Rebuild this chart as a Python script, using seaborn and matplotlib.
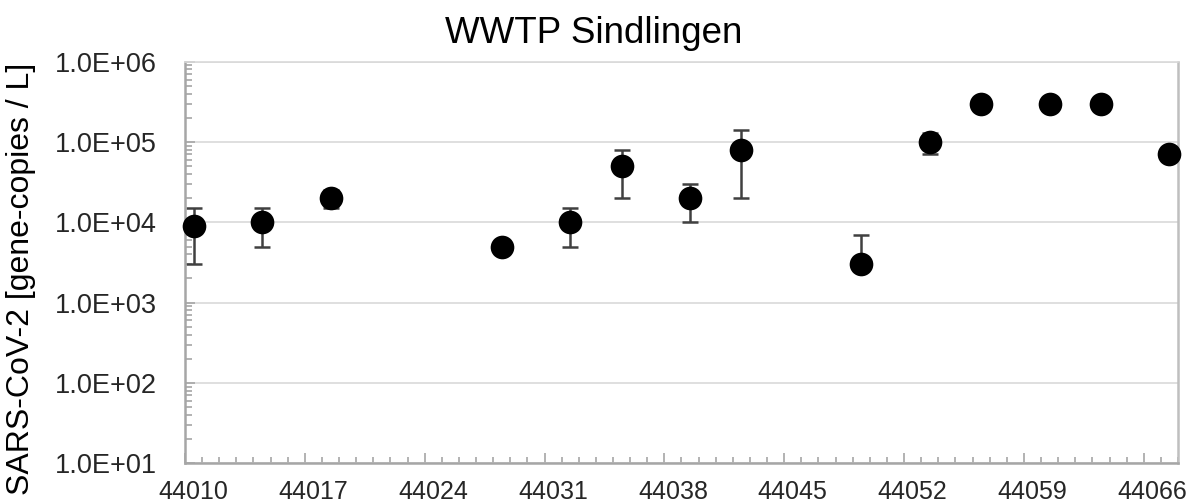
import matplotlib
matplotlib.use('Agg')
import matplotlib.pyplot as plt
import matplotlib.transforms as mtransforms
from matplotlib.ticker import FixedLocator, FuncFormatter, LogLocator, NullFormatter
import seaborn as sns
import pandas as pd
import numpy as np

# ---- data ----
dates = [44010, 44014, 44018, 44028, 44032, 44035, 44039, 44042, 44049, 44053, 44056, 44060, 44063, 44067]
values = [9000, 10000, 20000, 5000, 10000, 50000, 20000, 80000, 3000, 100000, 300000, 300000, 300000, 70000]
err_low = [3000, 5000, 15000, 5000, 5000, 20000, 10000, 20000, 3000, 70000, 300000, 300000, 300000, 70000]
err_high = [15000, 15000, 25000, 5000, 15000, 80000, 30000, 140000, 7000, 130000, 300000, 300000, 300000, 70000]
x_tick_labels = [44010, 44017, 44024, 44031, 44038, 44045, 44052, 44059, 44066]
title = "WWTP Sindlingen"
ylabel = "SARS-CoV-2 [gene-copies / L]"

sns.set_style("white")
plt.rcParams['font.family'] = ['Liberation Sans', 'DejaVu Sans']

df = pd.DataFrame({"date": dates, "value": values, "lo": err_low, "hi": err_high})

fig = plt.figure(figsize=(11.88, 5.04), dpi=100)
ax = fig.add_axes([185 / 1188, 1 - 463.3 / 504, (1178 - 185) / 1188, (463.3 - 61.7) / 504])

# error bars (behind markers)
yerr = np.vstack([df["value"] - df["lo"], df["hi"] - df["value"]])
ax.errorbar(df["date"], df["value"], yerr=yerr, fmt='none', ecolor='#404040',
            elinewidth=1.8, capsize=5.5, capthick=1.8, zorder=2)
sns.scatterplot(data=df, x="date", y="value", ax=ax, color='black', s=290,
                edgecolor='black', linewidth=0, zorder=3, clip_on=False, legend=False)

ax.set_yscale('log')
ax.set_ylim(10, 1e6)
ax.set_xlim(44009.5, 44067.5)

# y axis ticks
ax.yaxis.set_major_locator(LogLocator(base=10, numticks=10))
ax.yaxis.set_major_formatter(FuncFormatter(lambda v, p: f"{v:.1E}"))
ax.yaxis.set_minor_locator(LogLocator(base=10, subs=np.arange(2, 10), numticks=20))
ax.yaxis.set_minor_formatter(NullFormatter())
ax.tick_params(axis='y', which='major', direction='in', length=7, width=1.2, color='#a6a6a6',
               labelsize=19.5, pad=20, left=True)
ax.tick_params(axis='y', which='minor', direction='in', length=5, width=1.2, color='#a6a6a6', left=True)

# x axis ticks: boundaries between days, labels centered on day
bounds_major = [d - 0.5 for d in x_tick_labels]
bounds_minor = list(np.arange(44009.5, 44067.6, 1.0))
ax.xaxis.set_major_locator(FixedLocator(bounds_major))
ax.xaxis.set_major_formatter(FuncFormatter(lambda v, p: f"{int(round(v + 0.5))}"))
ax.xaxis.set_minor_locator(FixedLocator(bounds_minor))
ax.xaxis.set_minor_formatter(NullFormatter())
ax.tick_params(axis='x', which='major', direction='in', length=7, width=1.2, color='#a6a6a6',
               labelsize=18, pad=12, bottom=True)
ax.tick_params(axis='x', which='minor', direction='in', length=4, width=1.2, color='#a6a6a6', bottom=True)
offset = mtransforms.ScaledTranslation(8.5 / 100, 0, fig.dpi_scale_trans)
for lbl in ax.get_xticklabels():
    lbl.set_transform(lbl.get_transform() + offset)

# grid
ax.grid(False)
ax.yaxis.grid(True, which='major', color='#d9d9d9', linewidth=1.2)
ax.set_axisbelow(True)

for side in ['left', 'bottom', 'right', 'top']:
    ax.spines[side].set_visible(True)
    ax.spines[side].set_color('#a6a6a6')
    ax.spines[side].set_linewidth(1.8)
ax.spines['top'].set_color('#d9d9d9')
ax.spines['top'].set_linewidth(1.2)
ax.spines['right'].set_color('#bfbfbf')

ax.set_xlabel("")
ax.set_ylabel(ylabel, fontsize=23, color='black')
ax.yaxis.set_label_coords(-0.150, 0.46)

fig.text(0.5, 1 - 43 / 504, title, ha='center', va='baseline', fontsize=26.5, color='black')

fig.savefig("out.png", dpi=100)
